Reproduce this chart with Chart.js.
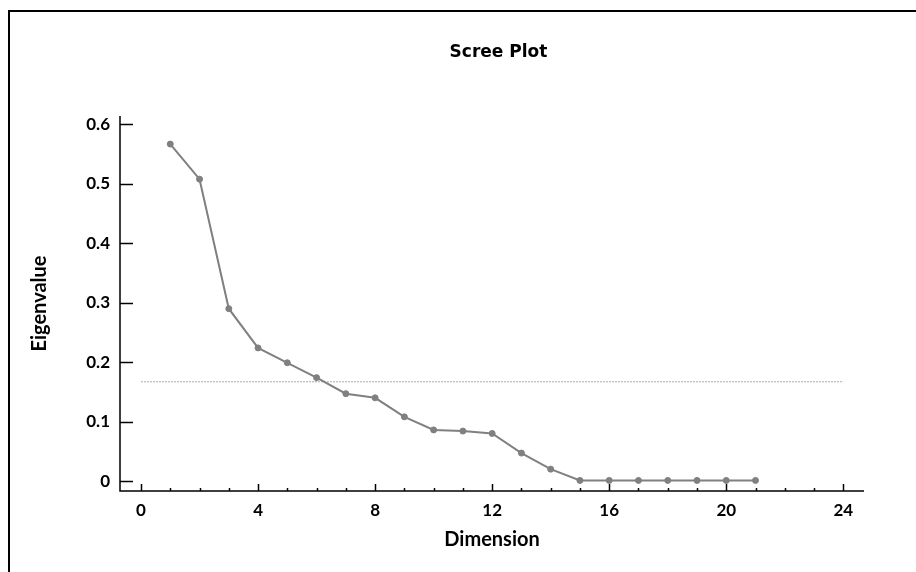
<!DOCTYPE html>
<html>
<head>
<meta charset="utf-8">
<script src="https://cdn.jsdelivr.net/npm/chart.js@4.4.0/dist/chart.umd.min.js"></script>
<style>
html, body { margin: 0; padding: 0; background: #fff; }
canvas { display: block; }
</style>
</head>
<body>
<canvas id="c" width="916" height="572"></canvas>
<script>
// ---- data ----
const dimensions = [1, 2, 3, 4, 5, 6, 7, 8, 9, 10, 11, 12, 13, 14, 15, 16, 17, 18, 19, 20, 21];
const eigenvalues = [0.567, 0.508, 0.290, 0.224, 0.199, 0.174, 0.147, 0.140, 0.108, 0.086, 0.084, 0.080, 0.047, 0.020, 0.001, 0.001, 0.001, 0.001, 0.001, 0.001, 0.001];
const thresholdX = [0, 24];
const thresholdY = [0.167, 0.167];
const xTickValues = [0, 4, 8, 12, 16, 20, 24];
const xTickLabels = ['0', '4', '8', '12', '16', '20', '24'];
const yTickValues = [0, 0.1, 0.2, 0.3, 0.4, 0.5, 0.6];
const yTickLabels = ['0', '0.1', '0.2', '0.3', '0.4', '0.5', '0.6'];

const frameAndAxes = {
  id: 'frameAndAxes',
  beforeDraw(chart) {
    const ctx = chart.ctx;
    ctx.save();
    ctx.fillStyle = '#ffffff';
    ctx.fillRect(0, 0, chart.width, chart.height);
    ctx.strokeStyle = '#000000';
    ctx.lineWidth = 2;
    ctx.beginPath();
    ctx.moveTo(9, chart.height);
    ctx.lineTo(9, 11);
    ctx.lineTo(chart.width, 11);
    ctx.stroke();
    ctx.restore();
  },
  beforeDatasetsDraw(chart) {
    const { ctx, chartArea, scales } = chart;
    const x = scales.x, y = scales.y;
    ctx.save();
    ctx.strokeStyle = '#000000';
    ctx.lineWidth = 1.5;
    ctx.beginPath();
    ctx.moveTo(chartArea.left, chartArea.top);
    ctx.lineTo(chartArea.left, chartArea.bottom);
    ctx.lineTo(chartArea.right, chartArea.bottom);
    ctx.stroke();
    yTickValues.forEach(v => {
      const py = Math.round(y.getPixelForValue(v)) + 0.5;
      ctx.beginPath();
      ctx.moveTo(chartArea.left, py);
      ctx.lineTo(chartArea.left + 13, py);
      ctx.stroke();
    });
    for (let i = 0; i <= 24; i++) {
      const px = Math.round(x.getPixelForValue(i)) + 0.5;
      const len = xTickValues.includes(i) ? 7 : 3;
      ctx.beginPath();
      ctx.moveTo(px, chartArea.bottom);
      ctx.lineTo(px, chartArea.bottom - len);
      ctx.stroke();
    }
    ctx.restore();
  }
};

new Chart(document.getElementById('c'), {
  type: 'scatter',
  data: {
    datasets: [
      {
        data: dimensions.map((d, i) => ({ x: d, y: eigenvalues[i] })),
        showLine: true,
        borderColor: '#808080',
        backgroundColor: '#808080',
        borderWidth: 2,
        pointRadius: 3,
        pointBorderWidth: 1,
        pointBackgroundColor: '#808080',
        pointBorderColor: '#808080',
        order: 1
      },
      {
        data: thresholdX.map((v, i) => ({ x: v, y: thresholdY[i] })),
        showLine: true,
        borderColor: '#ababab',
        borderWidth: 1,
        borderDash: [2, 1],
        pointRadius: 0,
        order: 2
      }
    ]
  },
  options: {
    responsive: false,
    animation: false,
    devicePixelRatio: 1,
    layout: { padding: { left: 81, right: 0, top: 0, bottom: 0 } },
    plugins: {
      legend: { display: false },
      tooltip: { enabled: false },
      title: {
        display: true,
        text: 'Scree Plot',
        color: '#000000',
        font: { family: 'DejaVu Sans', weight: 'bold', size: 17, lineHeight: 1.2 },
        padding: { top: 42, bottom: 53.6 }
      }
    },
    scales: {
      x: {
        type: 'linear',
        position: 'bottom',
        min: -0.718,
        max: 24.707,
        grid: { display: false, drawTicks: false },
        border: { display: false },
        afterBuildTicks: s => { s.ticks = xTickValues.map(v => ({ value: v })); },
        afterFit: s => { s.height = 81; },
        ticks: {
          padding: 9,
          color: '#000000',
          autoSkip: false,
          maxRotation: 0,
          font: { family: 'Lato', weight: 'bold', size: 17 },
          callback: (v, i) => xTickLabels[i]
        },
        title: {
          display: true,
          text: 'Dimension',
          color: '#000000',
          font: { family: 'Lato', weight: 'bold', size: 20, lineHeight: 1.2 },
          padding: { top: 0, bottom: 20.3 }
        }
      },
      y: {
        type: 'linear',
        position: 'left',
        min: -0.0168,
        max: 0.6143,
        grid: { display: false, drawTicks: false },
        border: { display: false },
        afterBuildTicks: s => { s.ticks = yTickValues.map(v => ({ value: v })); },
        afterFit: s => { s.width = 39; },
        ticks: {
          padding: 10,
          color: '#000000',
          autoSkip: false,
          font: { family: 'Lato', weight: 'bold', size: 17 },
          callback: (v, i) => yTickLabels[i]
        },
        title: {
          display: true,
          text: 'Eigenvalue',
          color: '#000000',
          font: { family: 'Lato', weight: 'bold', size: 20, lineHeight: 1.2 },
          padding: { top: -53.7, bottom: 0 }
        }
      },
      yRight: {
        type: 'linear',
        position: 'right',
        display: true,
        grid: { display: false, drawTicks: false },
        border: { display: false },
        ticks: { display: false },
        afterFit: s => { s.width = 52; }
      }
    }
  },
  plugins: [frameAndAxes]
});
</script>
</body>
</html>
